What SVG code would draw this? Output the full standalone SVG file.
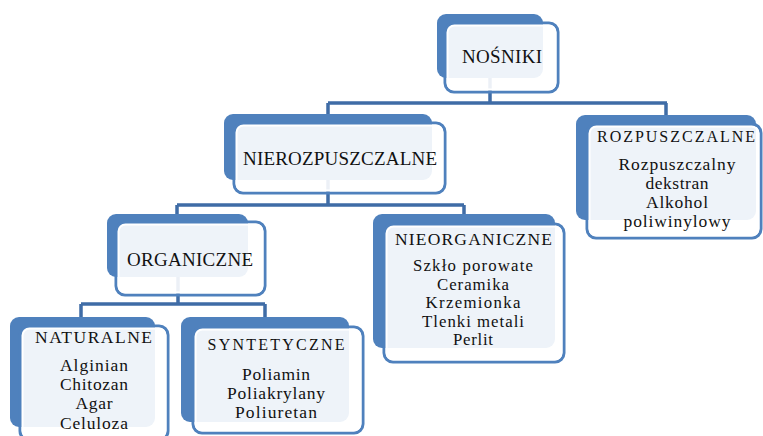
<svg xmlns="http://www.w3.org/2000/svg" width="763" height="436" viewBox="0 0 763 436">
<style>
.bk{fill:#4f81bd}
.fo{fill:none;stroke:#4f81bd;stroke-width:3}
.fi{fill:#ffffff;fill-opacity:0.9;stroke:#ffffff;stroke-width:2}
.cn{fill:none;stroke:#3f6ca6;stroke-width:3.5}
text{fill:#111;text-anchor:middle}
.h{font-size:17.5px}
.hs{font-size:16px}
.i{font-size:17.5px}
.j{font-size:16.8px}
.t{font-size:19px}
</style>
<rect width="763" height="436" fill="#ffffff"/>
<g id="connectors">
<path class="cn" d="M490 70 V103 M328 103 H667 M328 103 V118 M666 103 V118"/>
<path class="cn" d="M328 172 V205 M177 205 H464 M177 205 V216 M464 205 V216"/>
<path class="cn" d="M178 270 V304 M81 304 H265 M81 304 V319 M265 304 V319"/>
</g>
<g font-family="'Liberation Serif', 'Times New Roman', Tinos, 'DejaVu Serif', serif">
<g id="nosniki">
<rect class="bk" x="437" y="14" width="106" height="64" rx="9"/>
<rect class="fo" x="445" y="23" width="113" height="69" rx="9"/>
<rect class="fi" x="447.5" y="25.5" width="108" height="64" rx="7"/>
<text class="t" x="502" y="63" textLength="80" lengthAdjust="spacing">NOŚNIKI</text>
</g>
<g id="nierozpuszczalne">
<rect class="bk" x="224" y="114" width="208" height="66" rx="9"/>
<rect class="fo" x="234" y="123" width="211" height="70" rx="9"/>
<rect class="fi" x="236.5" y="125.5" width="206" height="65" rx="7"/>
<text class="t" x="340" y="165" textLength="194" lengthAdjust="spacing">NIEROZPUSZCZALNE</text>
</g>
<g id="rozpuszczalne">
<rect class="bk" x="576" y="115" width="180" height="105" rx="9"/>
<rect class="fo" x="587" y="124" width="174" height="114" rx="9"/>
<rect class="fi" x="589.5" y="126.5" width="169" height="109" rx="7"/>
<text class="hs" x="676" y="142" textLength="158" lengthAdjust="spacing">ROZPUSZCZALNE</text>
<text class="i" x="677" y="170" textLength="117" lengthAdjust="spacing">Rozpuszczalny</text>
<text class="i" x="677" y="189" textLength="63" lengthAdjust="spacing">dekstran</text>
<text class="i" x="677" y="208" textLength="62" lengthAdjust="spacing">Alkohol</text>
<text class="i" x="677" y="227" textLength="107" lengthAdjust="spacing">poliwinylowy</text>
</g>
<g id="organiczne">
<rect class="bk" x="107" y="214" width="141" height="63" rx="9"/>
<rect class="fo" x="116" y="222" width="149" height="73" rx="9"/>
<rect class="fi" x="118.5" y="224.5" width="144" height="68" rx="7"/>
<text class="t" x="190" y="266" textLength="126" lengthAdjust="spacing">ORGANICZNE</text>
</g>
<g id="nieorganiczne">
<rect class="bk" x="373" y="214" width="182" height="134" rx="9"/>
<rect class="fo" x="384" y="224" width="180" height="138" rx="9"/>
<rect class="fi" x="386.5" y="226.5" width="175" height="133" rx="7"/>
<text class="h" x="473.5" y="245" textLength="157" lengthAdjust="spacing">NIEORGANICZNE</text>
<text class="j" x="473" y="271" textLength="120" lengthAdjust="spacing">Szkło porowate</text>
<text class="j" x="473" y="289.5" textLength="72" lengthAdjust="spacing">Ceramika</text>
<text class="j" x="473" y="308" textLength="95" lengthAdjust="spacing">Krzemionka</text>
<text class="j" x="473" y="326.5" textLength="102" lengthAdjust="spacing">Tlenki metali</text>
<text class="j" x="473" y="345" textLength="40" lengthAdjust="spacing">Perlit</text>
</g>
<g id="naturalne">
<rect class="bk" x="10" y="317" width="145" height="110" rx="9"/>
<rect class="fo" x="20" y="326" width="148" height="114" rx="9"/>
<rect class="fi" x="22.5" y="328.5" width="143" height="109" rx="7"/>
<text class="h" x="93.5" y="343" textLength="117" lengthAdjust="spacing">NATURALNE</text>
<text class="i" x="94" y="371" textLength="68" lengthAdjust="spacing">Alginian</text>
<text class="i" x="94" y="390" textLength="68" lengthAdjust="spacing">Chitozan</text>
<text class="i" x="94" y="409" textLength="37" lengthAdjust="spacing">Agar</text>
<text class="i" x="94" y="429" textLength="68" lengthAdjust="spacing">Celuloza</text>
</g>
<g id="syntetyczne">
<rect class="bk" x="181" y="317" width="168" height="105" rx="9"/>
<rect class="fo" x="193" y="327" width="170" height="106" rx="9"/>
<rect class="fi" x="195.5" y="329.5" width="165" height="101" rx="7"/>
<text class="hs" x="276" y="350" textLength="137" lengthAdjust="spacing">SYNTETYCZNE</text>
<text class="i" x="276" y="380" textLength="68" lengthAdjust="spacing">Poliamin</text>
<text class="i" x="276" y="399" textLength="98" lengthAdjust="spacing">Poliakrylany</text>
<text class="i" x="276" y="418" textLength="82" lengthAdjust="spacing">Poliuretan</text>
</g>
</g>
</svg>
